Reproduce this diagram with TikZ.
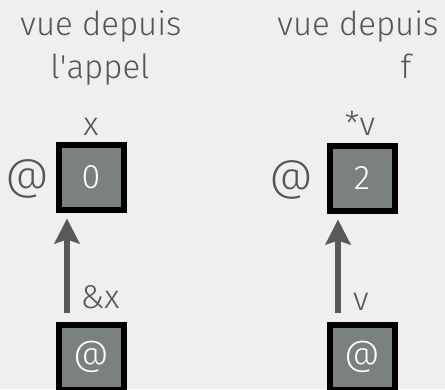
\documentclass[tikz,border=0pt]{standalone}
\usepackage{fontspec}
\setmainfont{Fira Sans}[UprightFont={* Light}]
\usepackage{xcolor}
\usetikzlibrary{arrows.meta}

\definecolor{bgpaper}{HTML}{EFEFEF}
\definecolor{cellgray}{HTML}{7B817E}
\definecolor{inkgray}{HTML}{555555}
\definecolor{ptrgray}{HTML}{595959}

\newcommand{\atsign}[1]{{\fontsize{#1}{#1}\selectfont @}}

\begin{document}
\begin{tikzpicture}[x=1pt, y=-1pt,
    cell/.style={draw=black, line width=6pt, fill=cellgray, minimum size=65pt,
        inner sep=0pt, text=white, font=\fontsize{34}{34}\selectfont},
    lbl/.style={text=inkgray, font=\fontsize{33}{33}\selectfont, inner sep=0pt},
    ptr/.style={draw=ptrgray, line width=6pt,
        -{Stealth[length=25pt, width=25pt, inset=4pt]}}]
    \useasboundingbox (0,0) rectangle (445,389);
    \fill[bgpaper] (0,0) rectangle (445,389);
    \clip (0,0) rectangle (445,389);

    % column headings
    \node[lbl, anchor=base] (head1a) at (101,35) {vue depuis};
    \node[lbl, anchor=base] (head1b) at (100,78) {l\textquotesingle appel};
    \node[lbl, anchor=base] (head2a) at (358,35) {vue depuis};
    \node[lbl, anchor=base] (head2b) at (406,78) {f};

    % memory cells
    \node[cell] (valx) at (91,177) {0};
    \node[cell] (ptrx) at (91,357) {\atsign{35}};
    \node[cell] (valv) at (362,178) {2};
    \node[cell] (ptrv) at (362,357) {\atsign{35}};

    % names and addresses
    \node[lbl, anchor=base] (namex) at (91,135) {x};
    \node[lbl, anchor=base] (namev) at (360,135) {*v};
    \node[lbl] (addrx) at (27,179) {\atsign{43}};
    \node[lbl] (addrv) at (291,180) {\atsign{43}};

    % pointers
    \draw[ptr] ([xshift=-24pt, yshift=9pt]ptrx.north) -- ([xshift=-24pt, yshift=-6pt]valx.south);
    \draw[ptr] ([xshift=-24pt, yshift=9pt]ptrv.north) -- ([xshift=-24pt, yshift=-6pt]valv.south);
    \node[lbl, anchor=base] (refx) at (100,308) {\&x};
    \node[lbl, anchor=base] (refv) at (361,310) {v};
\end{tikzpicture}
\end{document}
